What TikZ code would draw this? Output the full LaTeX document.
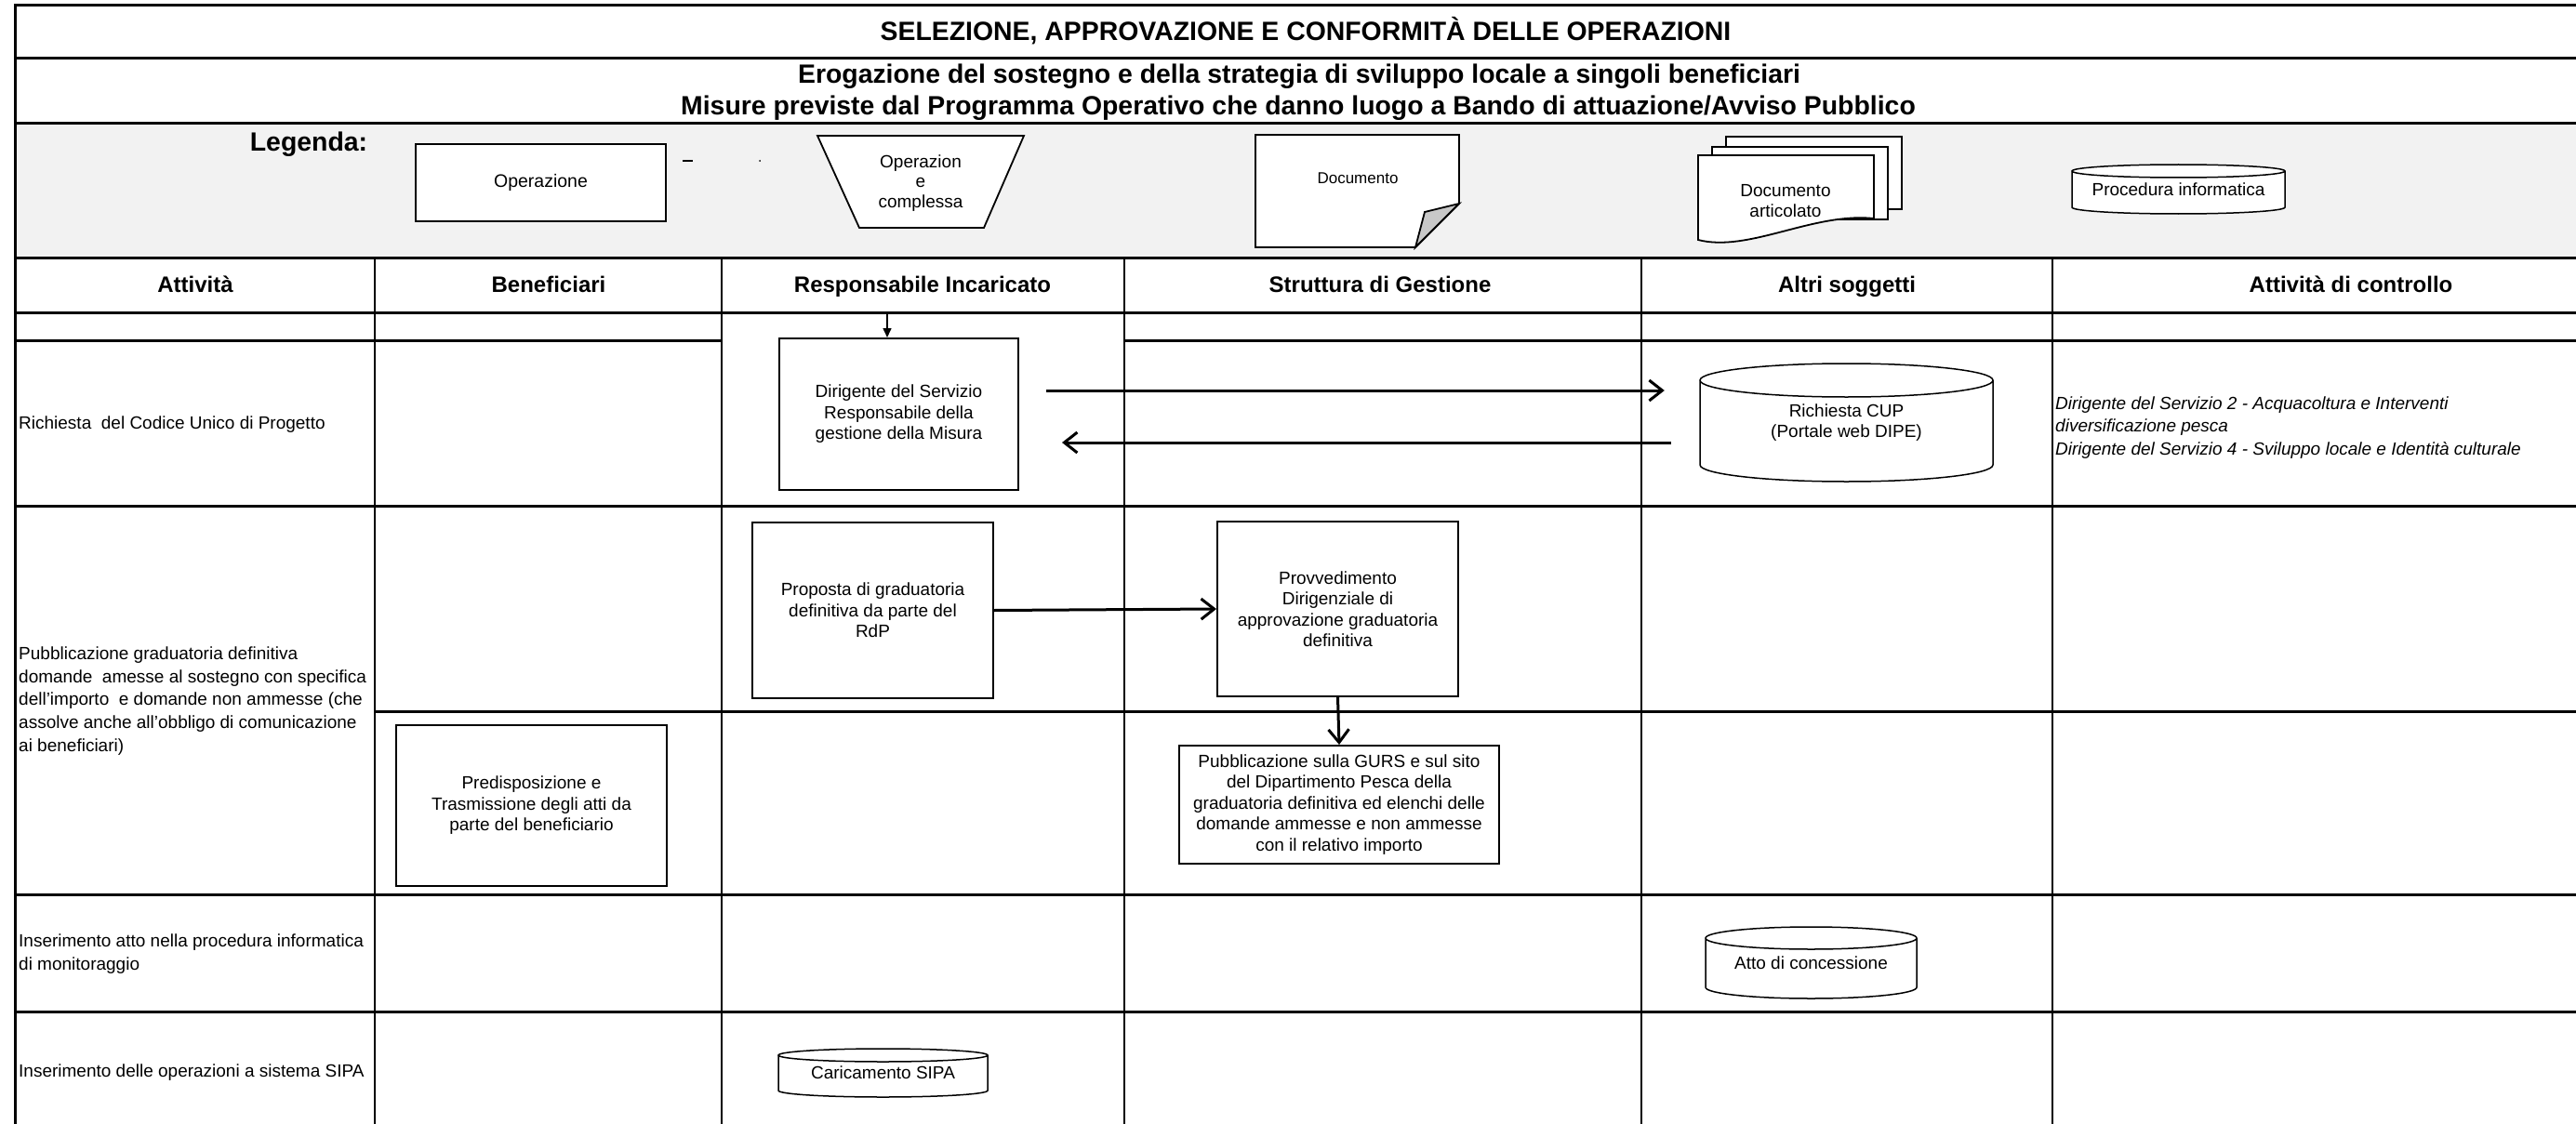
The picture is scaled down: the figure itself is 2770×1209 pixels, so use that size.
\documentclass[tikz,border=0pt]{standalone}
\usepackage{fontspec}
\setmainfont{Liberation Sans}
\usetikzlibrary{arrows.meta,calc}
\definecolor{legendgray}{HTML}{F2F2F2}
\definecolor{foldgray}{HTML}{C8C8C8}
\newcommand\fs[2]{\fontsize{#1}{#2}\selectfont}
\newcommand\drawcyl[7]{%
  \path[cylline] (#2,#3+#6) -- (#2,#5-#6)
    arc[start angle=180,end angle=360,x radius={(#4-#2)/2*1pt},y radius=#6pt]
    -- (#4,#3+#6)
    arc[start angle=0,end angle=360,x radius={(#4-#2)/2*1pt},y radius=#6pt];
  \node[cyltext, minimum width={(#4-#2)*1pt}, minimum height={(#5-#3)*1pt}] (#1) at ({(#2+#4)/2},{(#3+#5)/2}) {#7};
}
\begin{document}
\begin{tikzpicture}[x=1pt,y=-1pt,
  hrule/.style={line width=3pt},
  vrule/.style={line width=2.5pt},
  procbox/.style={draw, line width=2pt, fill=white, align=center, inner sep=0pt, font=\fs{19}{22.5}},
  plain/.style={inner sep=0pt, font=\fs{19}{24.7}},
  headtxt/.style={inner sep=0pt, anchor=base, font=\bfseries\fs{24}{28}},
  bigtitle/.style={inner sep=0pt, anchor=base, font=\bfseries\fs{28.4}{32}},
  bigarrow/.style={line width=3pt, -{Straight Barb[length=14pt,width=22pt]}},
  smallarrow/.style={line width=1.5pt, -{Triangle[length=10pt,width=9pt]}},
  shapeline/.style={draw=black, line width=1.8pt, fill=white},
  cylline/.style={draw=black, line width=1.5pt, fill=white},
  cyltext/.style={inner sep=0pt, align=center, font=\fs{19}{22}},
]
\fill[white] (0,0) rectangle (2770,1209);
\useasboundingbox (0,0) rectangle (2770,1209);
\fill[legendgray] (16,133) rectangle (2770,277);

% table rules
\draw[hrule] (16,6) -- (2770,6);
\draw[hrule] (16,63) -- (2770,63);
\draw[hrule] (16,133) -- (2770,133);
\draw[hrule] (16,277) -- (2770,277);
\draw[hrule] (16,336) -- (2770,336);
\draw[hrule] (16,366) -- (776,366);
\draw[hrule] (1209,366) -- (2770,366);
\draw[hrule] (16,544) -- (2770,544);
\draw[hrule] (403,765) -- (2770,765);
\draw[hrule] (16,962) -- (2770,962);
\draw[hrule] (16,1088) -- (2770,1088);
\draw[hrule] (16,4.5) -- (16,1209);
\foreach \cx in {403,776,1209,1765,2207}{\draw[vrule] (\cx,277) -- (\cx,1209);}

% titles
\node[bigtitle] (title) at (1404,44) {SELEZIONE, APPROVAZIONE E CONFORMITÀ DELLE OPERAZIONI};
\node[bigtitle] (sub1) at (1397,90) {Erogazione del sostegno e della strategia di sviluppo locale a singoli beneficiari};
\node[bigtitle] (sub2) at (1396,124) {Misure previste dal Programma Operativo che danno luogo a Bando di attuazione/Avviso Pubblico};

% legend
\node[bigtitle] (leg) at (332,163) {Legenda:};
\node[procbox, font=\fs{19.5}{22.5}, minimum width=269pt, minimum height=83pt] (lop) at (581.5,196.5) {Operazione};
\draw[line width=1.5pt] (734,173) -- (745,173);
\fill (817,173) circle (1pt);
\draw[shapeline] (879,146) -- (1101,146) -- (1058,245) -- (924,245) -- cycle;
\node[cyltext, font=\fs{19}{21.5}] (lopc) at (990,197) {Operazion\\e\\complessa};
\draw[shapeline] (1350,145) -- (1569,145) -- (1569,219) -- (1522,266) -- (1350,266) -- cycle;
\draw[shapeline, fill=foldgray] (1569,219) -- (1532,228) -- (1522,266) -- cycle;
\node[inner sep=0pt, anchor=base, font=\fs{17}{20}] (ldoc) at (1460,198) {Documento};
\draw[shapeline] (1856,147) rectangle (2045,225);
\draw[shapeline] (1841,158) rectangle (2030,236);
\draw[shapeline] (1826,167) -- (2015,167) -- (2015,235) .. controls (1950,228) and (1880,272) .. (1826,258) -- cycle;
\node[cyltext] (ldocart) at (1920,216) {Documento\\articolato};
\drawcyl{lproc}{2228}{177}{2457}{230}{7}{Procedura informatica}

% header
\node[headtxt] (h1) at (210,314) {Attività};
\node[headtxt] (h2) at (590,314) {Beneficiari};
\node[headtxt] (h3) at (992,314) {Responsabile Incaricato};
\node[headtxt] (h4) at (1484,314) {Struttura di Gestione};
\node[headtxt] (h5) at (1986,314) {Altri soggetti};
\node[headtxt] (h6) at (2528,314) {Attività di controllo};

% activities
\node[plain, anchor=base west] (a1) at (20,461) {Richiesta~ del Codice Unico di Progetto};
\node[plain, align=left, anchor=west] (a2) at (20,754) {Pubblicazione graduatoria definitiva\\domande~ amesse al sostegno con specifica\\dell'importo~ e domande non ammesse (che\\assolve anche all'obbligo di comunicazione\\ai beneficiari)};
\node[plain, align=left, anchor=west] (a3) at (20,1026) {Inserimento atto nella procedura informatica\\di monitoraggio};
\node[plain, anchor=base west] (a4) at (20,1158) {Inserimento delle operazioni a sistema SIPA};
\node[plain, align=left, anchor=west, font=\fs{19}{24.5}\itshape] (ctrl) at (2210,460) {Dirigente del Servizio 2 - Acquacoltura e Interventi\\diversificazione pesca\\Dirigente del Servizio 4 - Sviluppo locale e Identità culturale};

% process boxes
\node[procbox, minimum width=257pt, minimum height=163pt] (dir) at (966.5,445.5) {Dirigente del Servizio\\Responsabile della\\gestione della Misura};
\node[procbox, minimum width=259pt, minimum height=189pt] (prop) at (938.5,656.5) {Proposta di graduatoria\\definitiva da parte del\\RdP};
\node[procbox, minimum width=259pt, minimum height=188pt] (prov) at (1438.5,655) {Provvedimento\\Dirigenziale di\\approvazione graduatoria\\definitiva};
\node[procbox, minimum width=344pt, minimum height=127pt] (pubb) at (1440,865.5) {Pubblicazione sulla GURS e sul sito\\del Dipartimento Pesca della\\graduatoria definitiva ed elenchi delle\\domande ammesse e non ammesse\\con il relativo importo};
\node[procbox, minimum width=291pt, minimum height=173pt] (pred) at (571.5,866.5) {Predisposizione e\\Trasmissione degli atti da\\parte del beneficiario};

% cylinders
\drawcyl{cup}{1828}{391}{2143}{518}{18}{Richiesta CUP\\(Portale web DIPE)}
\drawcyl{atto}{1834}{997}{2061}{1074}{12}{Atto di concessione}
\drawcyl{sipa}{837}{1128}{1062}{1180}{7}{Caricamento SIPA}

% connectors
\coordinate (rtop) at (954,337);
\draw[smallarrow] (rtop) -- (rtop |- dir.north);
\draw[bigarrow, shorten <=29pt, shorten >=38pt] ([yshift=25.5pt]dir.east) -- ([yshift=25.5pt]dir.east -| cup.west);
\draw[bigarrow, shorten <=31pt, shorten >=46pt] ([yshift=-30.5pt]dir.east -| cup.west) -- ([yshift=-30.5pt]dir.east);
\draw[bigarrow] (prop.east) -- (prov.west);
\draw[bigarrow] (prov.south) -- (pubb.north);
\end{tikzpicture}
\end{document}
